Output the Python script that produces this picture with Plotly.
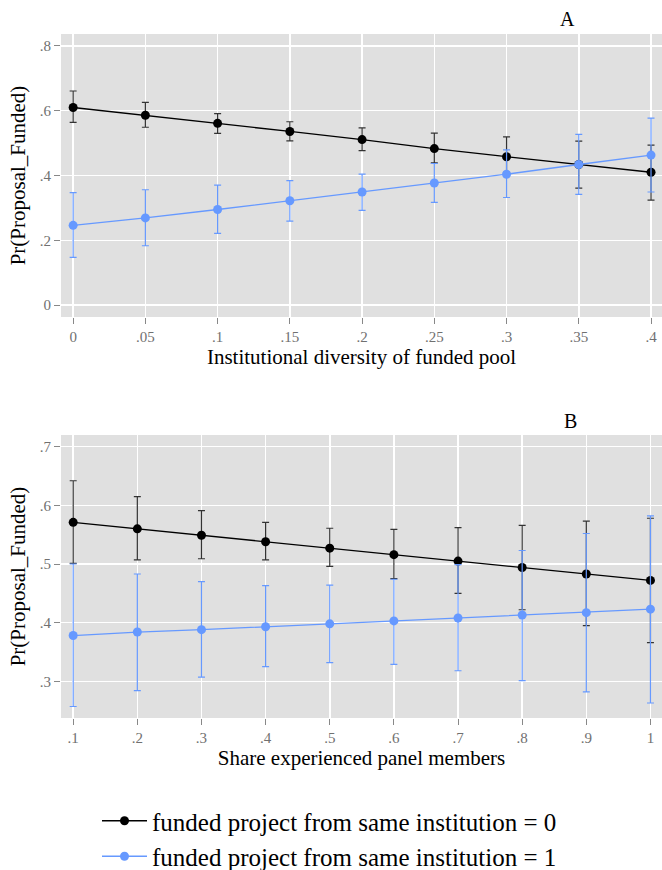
import plotly.graph_objects as go

# ---------------- data ----------------
# Panel A
a_x = [0, 0.05, 0.10, 0.15, 0.20, 0.25, 0.30, 0.35, 0.40]
a0_y = [0.610, 0.586, 0.561, 0.536, 0.511, 0.483, 0.458, 0.434, 0.410]
a0_hi = [0.661, 0.626, 0.591, 0.566, 0.547, 0.531, 0.519, 0.506, 0.494]
a0_lo = [0.564, 0.549, 0.530, 0.507, 0.477, 0.439, 0.410, 0.361, 0.324]
a1_y = [0.246, 0.269, 0.295, 0.322, 0.349, 0.377, 0.404, 0.434, 0.463]
a1_hi = [0.347, 0.356, 0.370, 0.384, 0.404, 0.437, 0.479, 0.527, 0.577]
a1_lo = [0.147, 0.183, 0.221, 0.259, 0.292, 0.317, 0.332, 0.342, 0.349]
a_xticks = [0, 0.05, 0.10, 0.15, 0.20, 0.25, 0.30, 0.35, 0.40]
a_xticktext = ["0", ".05", ".1", ".15", ".2", ".25", ".3", ".35", ".4"]
a_yticks = [0, 0.2, 0.4, 0.6, 0.8]
a_yticktext = ["0", ".2", ".4", ".6", ".8"]

# Panel B
b_x = [0.1, 0.2, 0.3, 0.4, 0.5, 0.6, 0.7, 0.8, 0.9, 1.0]
b0_y = [0.571, 0.560, 0.549, 0.538, 0.527, 0.516, 0.505, 0.494, 0.483, 0.472]
b0_hi = [0.642, 0.615, 0.591, 0.571, 0.561, 0.559, 0.562, 0.566, 0.573, 0.578]
b0_lo = [0.501, 0.507, 0.509, 0.507, 0.496, 0.475, 0.450, 0.422, 0.395, 0.366]
b1_y = [0.378, 0.384, 0.388, 0.393, 0.398, 0.403, 0.408, 0.413, 0.417, 0.423]
b1_hi = [0.500, 0.483, 0.470, 0.463, 0.464, 0.474, 0.499, 0.523, 0.552, 0.582]
b1_lo = [0.257, 0.284, 0.307, 0.325, 0.332, 0.329, 0.318, 0.301, 0.282, 0.263]
b_xticks = [0.1, 0.2, 0.3, 0.4, 0.5, 0.6, 0.7, 0.8, 0.9, 1.0]
b_xticktext = [".1", ".2", ".3", ".4", ".5", ".6", ".7", ".8", ".9", "1"]
b_yticks = [0.3, 0.4, 0.5, 0.6, 0.7]
b_yticktext = [".3", ".4", ".5", ".6", ".7"]

series_names = ["funded project from same institution = 0",
                "funded project from same institution = 1"]

# ---------------- style ----------------
FONT = "Liberation Serif, Times New Roman, serif"
BLACK = "#000000"
BLACK_ERR = "#333333"
BLUE = "#6699FF"
BG = "#E0E0E0"


def trace(x, y, hi, lo, color, errcolor, name, xa, ya, show):
    return go.Scatter(
        x=x, y=y, mode="lines+markers", name=name,
        line=dict(color=color, width=1.3),
        marker=dict(color=color, size=9),
        error_y=dict(type="data", symmetric=False,
                     array=[h - v for h, v in zip(hi, y)],
                     arrayminus=[v - l for v, l in zip(y, lo)],
                     color=errcolor, thickness=1.2, width=3.5),
        xaxis=xa, yaxis=ya, showlegend=show, hoverinfo="skip",
    )


fig = go.Figure()
fig.add_trace(trace(a_x, a0_y, a0_hi, a0_lo, BLACK, BLACK_ERR, series_names[0], "x", "y", True))
fig.add_trace(trace(a_x, a1_y, a1_hi, a1_lo, BLUE, BLUE, series_names[1], "x", "y", True))
fig.add_trace(trace(b_x, b0_y, b0_hi, b0_lo, BLACK, BLACK_ERR, series_names[0], "x2", "y2", False))
fig.add_trace(trace(b_x, b1_y, b1_hi, b1_lo, BLUE, BLUE, series_names[1], "x2", "y2", False))

W, H = 662, 870
ML = 61
PW = W - ML


def px_y(screen_y):
    return 1 - screen_y / H


def px_x(screen_x):
    return (screen_x - ML) / PW


tickfont = dict(family=FONT, size=15, color="#707070")
titlefont = dict(family=FONT, size=21, color="#000000")

axis_common = dict(showgrid=True, gridcolor="#FFFFFF", gridwidth=1.5,
                   zeroline=False, showline=False, ticks="outside",
                   ticklen=6, tickcolor="#888888", tickwidth=1,
                   tickfont=tickfont, automargin=False)

fig.update_layout(
    template="none",
    width=W, height=H,
    margin=dict(l=ML, r=0, t=0, b=0, autoexpand=False),
    paper_bgcolor="#FFFFFF", plot_bgcolor=BG,
    font=dict(family=FONT),
    hovermode=False,
    xaxis=dict(domain=[0, 1], anchor="y", range=[-0.0084, 0.4076],
               tickvals=a_xticks, ticktext=a_xticktext,
               title=dict(text="Institutional diversity of funded pool", font=titlefont, standoff=2),
               **axis_common),
    yaxis=dict(domain=[px_y(317), px_y(34)], anchor="x", range=[-0.037, 0.837],
               tickvals=a_yticks, ticktext=a_yticktext,
               title=dict(text="Pr(Proposal_Funded)", font=titlefont, standoff=8),
               **axis_common),
    xaxis2=dict(domain=[0, 1], anchor="y2", range=[0.081, 1.018],
                tickvals=b_xticks, ticktext=b_xticktext,
                title=dict(text="Share experienced panel members", font=titlefont, standoff=2),
                **axis_common),
    yaxis2=dict(domain=[px_y(718), px_y(435)], anchor="x2", range=[0.2374, 0.72],
                tickvals=b_yticks, ticktext=b_yticktext,
                title=dict(text="Pr(Proposal_Funded)", font=titlefont, standoff=8),
                **axis_common),
    legend=dict(x=px_x(97), xanchor="left", y=px_y(798), yanchor="top",
                font=dict(family=FONT, size=25, color="#000000"),
                itemwidth=45, bgcolor="rgba(0,0,0,0)", tracegroupgap=0,
                borderwidth=0),
    annotations=[
        dict(text="A", x=px_x(567), y=px_y(19), xref="paper", yref="paper",
             showarrow=False, font=dict(family=FONT, size=20, color="#000000"),
             xanchor="center", yanchor="middle"),
        dict(text="B", x=px_x(570), y=px_y(421), xref="paper", yref="paper",
             showarrow=False, font=dict(family=FONT, size=20, color="#000000"),
             xanchor="center", yanchor="middle"),
    ],
)

# remove the default 8px page margin so the figure fills the 662x870 window
fig.write_html(
    "out.html",
    config={"displayModeBar": False, "staticPlot": True},
    post_script="document.body.style.margin='0';document.body.style.overflow='hidden';",
)
